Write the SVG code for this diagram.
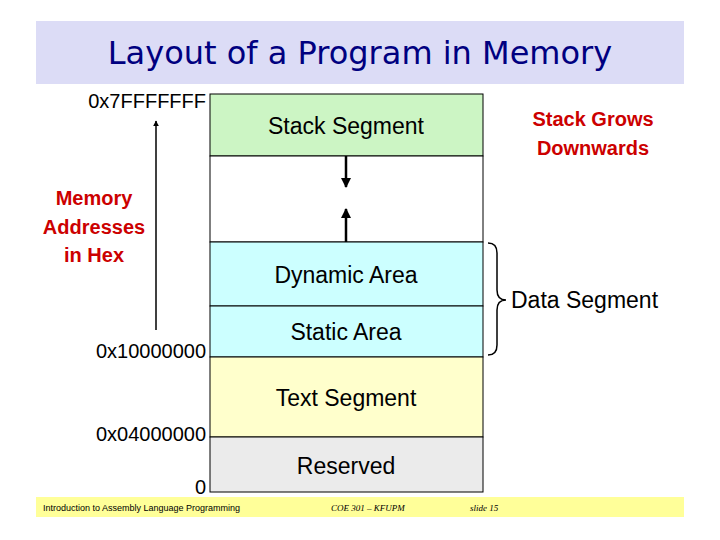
<svg xmlns="http://www.w3.org/2000/svg" width="720" height="540" viewBox="0 0 720 540">
<style>
.t{font-family:"Liberation Sans",Arial,sans-serif;font-size:23px;fill:#000}
.a{font-family:"Liberation Sans",Arial,sans-serif;font-size:20px;fill:#000;text-anchor:end}
.r{font-family:"Liberation Sans",Arial,sans-serif;font-size:20px;fill:#cc0000;font-weight:bold}
.seg{stroke:#000;stroke-width:1}
.f{font-family:"Liberation Sans",Arial,sans-serif;font-size:9px}
.fi{font-family:"Liberation Serif",serif;font-size:9px;font-style:italic}
</style>
<defs><marker id="a" viewBox="0 0 10 10" refX="9" refY="5" markerWidth="4" markerHeight="4" orient="auto"><path d="M0,0L10,5L0,10z" fill="#000"/></marker></defs>
<rect width="720" height="540" fill="#fff"/>
<rect x="36" y="21" width="648" height="63" fill="#dcdcf6"/>
<text x="360" y="64" text-anchor="middle" font-family="DejaVu Sans,sans-serif" font-size="32" fill="#000080">Layout of a Program in Memory</text>
<g id="stack"><rect class="seg" x="210" y="94" width="273" height="62" fill="#ccf5c4"/><text class="t" x="346" y="134" text-anchor="middle">Stack Segment</text></g>
<g id="free"><rect class="seg" x="210" y="156" width="273" height="86" fill="#fff"/></g>
<g id="dynamic"><rect class="seg" x="210" y="242" width="273" height="64" fill="#ccffff"/><text class="t" x="346" y="283" text-anchor="middle">Dynamic Area</text></g>
<g id="static"><rect class="seg" x="210" y="306" width="273" height="51" fill="#ccffff"/><text class="t" x="346" y="340" text-anchor="middle">Static Area</text></g>
<g id="text"><rect class="seg" x="210" y="357" width="273" height="80" fill="#ffffcc"/><text class="t" x="346" y="406" text-anchor="middle">Text Segment</text></g>
<g id="reserved"><rect class="seg" x="210" y="437" width="273" height="55" fill="#ebebeb"/><text class="t" x="346" y="474" text-anchor="middle">Reserved</text></g>
<g id="connectors" stroke="#000" fill="none">
<line x1="346" y1="156" x2="346" y2="187" stroke-width="2.5" marker-end="url(#a)"/>
<line x1="346" y1="242" x2="346" y2="209" stroke-width="2.5" marker-end="url(#a)"/>
<line x1="156" y1="330" x2="156" y2="121" stroke-width="1.5" marker-end="url(#a)"/>
<path d="M488,243 Q497,243 497,253 L497,290 Q497,300 506,300 Q497,300 497,310 L497,345 Q497,355 488,355" stroke-width="1.5"/>
</g>
<text class="a" x="206" y="108">0x7FFFFFFF</text>
<text class="r" x="94" y="205" text-anchor="middle">Memory</text>
<text class="r" x="94" y="234" text-anchor="middle">Addresses</text>
<text class="r" x="94" y="262" text-anchor="middle">in Hex</text>
<text class="a" x="206" y="358">0x10000000</text>
<text class="a" x="206" y="441">0x04000000</text>
<text class="a" x="206" y="494">0</text>
<text class="r" x="593" y="126" text-anchor="middle">Stack Grows</text>
<text class="r" x="593" y="155" text-anchor="middle">Downwards</text>
<text class="t" x="511" y="308">Data Segment</text>
<rect x="36" y="497" width="648" height="20" fill="#ffff99"/>
<text class="f" x="43" y="511">Introduction to Assembly Language Programming</text>
<text class="fi" x="331" y="511">COE 301 – KFUPM</text>
<text class="fi" x="470" y="511">slide 15</text>
</svg>
